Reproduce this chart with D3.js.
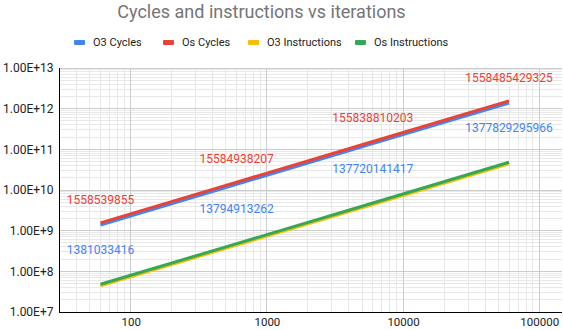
<!DOCTYPE html>
<html><head><meta charset="utf-8">
<script src="https://cdn.jsdelivr.net/npm/d3@7"></script>
<style>body{margin:0;background:#fff}svg{display:block}text{font-family:Roboto,Arial,sans-serif}</style>
</head><body><svg id="c" width="563" height="330"></svg>
<script>
const iterations = [60, 600, 6000, 60000];
const o3Cycles = [1381033416, 13794913262, 137720141417, 1377829295966];
const osCycles = [1558539855, 15584938207, 155838810203, 1558485429325];
const o3Instructions = [44000000, 440000000, 4400000000, 44000000000];
const osInstructions = [48000000, 480000000, 4800000000, 48000000000];
const seriesNames = ["O3 Cycles", "Os Cycles", "O3 Instructions", "Os Instructions"];
const seriesColors = ["#4285F4", "#EA4335", "#FBBC04", "#34A853"];
const yTickLabels = ["1.00E+7","1.00E+8","1.00E+9","1.00E+10","1.00E+11","1.00E+12","1.00E+13"];
const xTickLabels = ["100","1000","10000","100000"];

const svg = d3.select("#c");
const L = 59.5, R = 562, T = 68, B = 312;
const x = d3.scaleLog().domain([30, 147000]).range([L, R]);
const y = d3.scaleLog().domain([1e7, 1e13]).range([B, T]);

// minor grid
const xMinor = [], yMinor = [];
for (let e = 1; e <= 5; e++) for (let m = 1; m <= 9; m++) { const v = m * Math.pow(10, e); if (v >= 30 && v <= 147000) xMinor.push(v); }
for (let e = 7; e < 13; e++) for (let m = 2; m <= 9; m++) yMinor.push(m * Math.pow(10, e));
const g = svg.append("g");
g.selectAll(".xm").data(xMinor).join("line").attr("x1", d => x(d)).attr("x2", d => x(d)).attr("y1", T).attr("y2", B).attr("stroke", "#e8e8e8").attr("stroke-width", 1).attr("shape-rendering","crispEdges");
g.selectAll(".ym").data(yMinor).join("line").attr("x1", L).attr("x2", R).attr("y1", d => y(d)).attr("y2", d => y(d)).attr("stroke", "#e8e8e8").attr("stroke-width", 1).attr("shape-rendering","crispEdges");
const xMajor = xTickLabels.map(Number), yMajor = yTickLabels.map(Number);
g.selectAll(".xM").data(xMajor).join("line").attr("x1", d => x(d)).attr("x2", d => x(d)).attr("y1", T).attr("y2", B).attr("stroke", "#cccccc").attr("shape-rendering","crispEdges");
g.selectAll(".yM").data(yMajor).join("line").attr("x1", L).attr("x2", R).attr("y1", d => y(d)).attr("y2", d => y(d)).attr("stroke", "#cccccc").attr("shape-rendering","crispEdges");

// axes
const yAxis = d3.axisLeft(y).tickValues(yMajor).tickFormat((d, i) => yTickLabels[i]).tickSize(0).tickPadding(6);
const ya = svg.append("g").attr("transform", `translate(${L},0)`).call(yAxis);
const xAxis = d3.axisBottom(x).tickValues(xMajor).tickFormat((d, i) => xTickLabels[i]).tickSize(0).tickPadding(6);
const xa = svg.append("g").attr("transform", `translate(0,${B})`).call(xAxis);
[ya, xa].forEach(a => { a.select(".domain").remove(); a.selectAll("text").attr("font-size", 12).attr("fill", "#222").attr("font-family","Roboto,Arial,sans-serif"); });
xa.selectAll("text").attr("font-size", 11.5);
svg.append("line").attr("x1", L).attr("x2", L).attr("y1", T).attr("y2", B + 0.5).attr("stroke", "#000").attr("shape-rendering","crispEdges");
svg.append("line").attr("x1", L).attr("x2", R).attr("y1", B).attr("y2", B).attr("stroke", "#000").attr("shape-rendering","crispEdges");

// lines
const series = [o3Cycles, osCycles, o3Instructions, osInstructions];
const line = d3.line().x((d, i) => x(iterations[i])).y(d => y(d));
const order = [2, 3, 0, 1];
order.forEach(k => {
  svg.append("path").datum(series[k]).attr("d", line).attr("fill", "none").attr("stroke", seriesColors[k]).attr("stroke-width", 3);
});

// data labels
[[0, 29], [1, -19]].forEach(([k, dy]) => {
  svg.append("g").selectAll("text").data(series[k]).join("text")
    .attr("x", (d, i) => x(iterations[i])).attr("y", d => y(d) + dy)
    .attr("text-anchor", "middle").attr("font-size", 12).attr("fill", seriesColors[k]).text(d => d);
});

// title
svg.append("text").attr("x", 261.5).attr("y", 18).attr("text-anchor", "middle").attr("font-size", 18).attr("fill", "#757575").text("Cycles and instructions vs iterations");

// legend
const legX = [74, 163, 248, 355];
const lg = svg.append("g");
seriesNames.forEach((n, i) => {
  lg.append("rect").attr("x", legX[i]).attr("y", 40).attr("width", 11).attr("height", 5).attr("rx", 1).attr("fill", seriesColors[i]);
  lg.append("text").attr("x", legX[i] + 19).attr("y", 46).attr("font-size", 11).attr("fill", "#222").text(n);
});
</script></body></html>
